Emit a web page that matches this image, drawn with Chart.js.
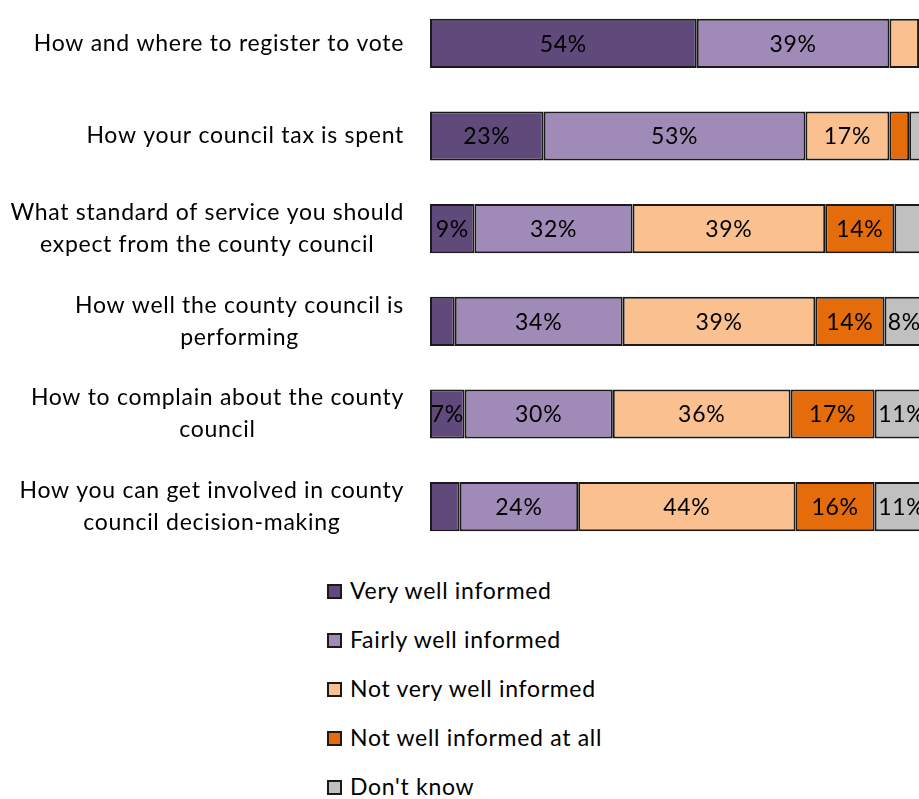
<!DOCTYPE html>
<html>
<head>
<meta charset="utf-8">
<script src="https://cdn.jsdelivr.net/npm/chart.js@4"></script>
<style>
    html, body { margin: 0; padding: 0; background: #fff; overflow: hidden; }
    #wrap { position: relative; width: 919px; height: 799px; overflow: hidden; }
    #chartBox { position: absolute; left: 0; top: -3px; width: 930px; height: 560px; }
    #legend { position: absolute; left: 327px; top: 576px; font-family: Lato, "Liberation Sans", sans-serif; font-size: 23px; letter-spacing: 0.7px; color: #000; }
    .item { height: 49px; display: flex; align-items: flex-start; }
    .box { width: 11px; height: 11px; border: 2px solid #1a1a1a; margin-top: 8px; margin-right: 8px; }
</style>
</head>
<body>
<div id="wrap">
    <div id="chartBox"><canvas id="surveyChart" width="930" height="560"></canvas></div>
    <div id="legend"></div>
</div>
<script>
const categories = [
    "How and where to register to vote",
    "How your council tax is spent",
    ["What standard of service you should", "expect from the county council"],
    ["How well the county council is", "performing"],
    ["How to complain about the county", "council"],
    ["How you can get involved in county", "council decision-making"]
];

const seriesNames = ["Very well informed", "Fairly well informed", "Not very well informed", "Not well informed at all", "Don't know"];
const seriesColors = ["#604A7B", "#A08BB8", "#FAC090", "#E46C0A", "#C0C0C0"];

const veryWell = [54, 23, 9, 5, 7, 6];
const fairlyWell = [39, 53, 32, 34, 30, 24];
const notVeryWell = [6, 17, 39, 39, 36, 44];
const notWellAtAll = [1, 4, 14, 14, 17, 16];
const dontKnow = [0, 3, 6, 8, 11, 11];

const seriesValues = [veryWell, fairlyWell, notVeryWell, notWellAtAll, dontKnow];

const fontFamily = "Lato, 'Liberation Sans', sans-serif";

// slightly looser letters, closer to the original rendering
const spacing = {
    id: "spacing",
    beforeDraw(chart) {
        chart.ctx.letterSpacing = "0.7px";
    }
};

// category labels: block right-aligned to the axis, lines centred inside the block
const categoryLabels = {
    id: "categoryLabels",
    afterDraw(chart) {
        const ctx = chart.ctx;
        const yScale = chart.scales.y;
        const right = chart.chartArea.left - 26;
        ctx.save();
        ctx.font = "23px " + fontFamily;
        ctx.fillStyle = "#000";
        ctx.textAlign = "center";
        ctx.textBaseline = "middle";
        chart.data.labels.forEach((lab, i) => {
            const lines = Array.isArray(lab) ? lab : [lab];
            const w = Math.max(...lines.map(l => ctx.measureText(l).width));
            const cx = right - w / 2;
            const cy = yScale.getPixelForValue(i);
            lines.forEach((l, k) => {
                ctx.fillText(l, cx, cy + (k - (lines.length - 1) / 2) * 32);
            });
        });
        ctx.restore();
    }
};

// draw percentage labels in the middle of each segment
const segmentLabels = {
    id: "segmentLabels",
    afterDatasetsDraw(chart) {
        const ctx = chart.ctx;
        ctx.save();
        ctx.font = "23px " + fontFamily;
        ctx.fillStyle = "#000";
        ctx.textAlign = "center";
        ctx.textBaseline = "middle";
        chart.data.datasets.forEach((ds, i) => {
            chart.getDatasetMeta(i).data.forEach((bar, j) => {
                const v = ds.data[j];
                if (v < 7) return;
                const cx = (bar.x + bar.base) / 2;
                ctx.fillText(v + "%", cx, bar.y + 1);
            });
        });
        ctx.restore();
    }
};

new Chart(document.getElementById("surveyChart"), {
    type: "bar",
    data: {
        labels: categories,
        datasets: seriesNames.map((name, i) => ({
            label: name,
            data: seriesValues[i],
            backgroundColor: seriesColors[i],
            borderColor: "#1a1a1a",
            borderWidth: 2,
            borderSkipped: false,
            barPercentage: 0.53,
            categoryPercentage: 1
        }))
    },
    options: {
        indexAxis: "y",
        responsive: false,
        animation: false,
        layout: { padding: { left: 0, right: 6, top: 0, bottom: 4 } },
        plugins: {
            legend: { display: false },
            tooltip: { enabled: false }
        },
        scales: {
            x: {
                stacked: true,
                min: 0,
                max: 100,
                display: false
            },
            y: {
                stacked: true,
                grid: { display: false, drawTicks: false },
                border: { display: false },
                afterFit: function(scale) {
                    scale.width = 430;
                    scale.paddingTop = 0;
                    scale.paddingBottom = 0;
                },
                ticks: { display: false }
            }
        }
    },
    plugins: [spacing, segmentLabels, categoryLabels]
});

// legend, one entry per line
const legendEl = document.getElementById("legend");
seriesNames.forEach((name, i) => {
    const row = document.createElement("div");
    row.className = "item";
    const box = document.createElement("span");
    box.className = "box";
    box.style.background = seriesColors[i];
    const txt = document.createElement("span");
    txt.textContent = name;
    row.appendChild(box);
    row.appendChild(txt);
    legendEl.appendChild(row);
});
</script>
</body>
</html>
